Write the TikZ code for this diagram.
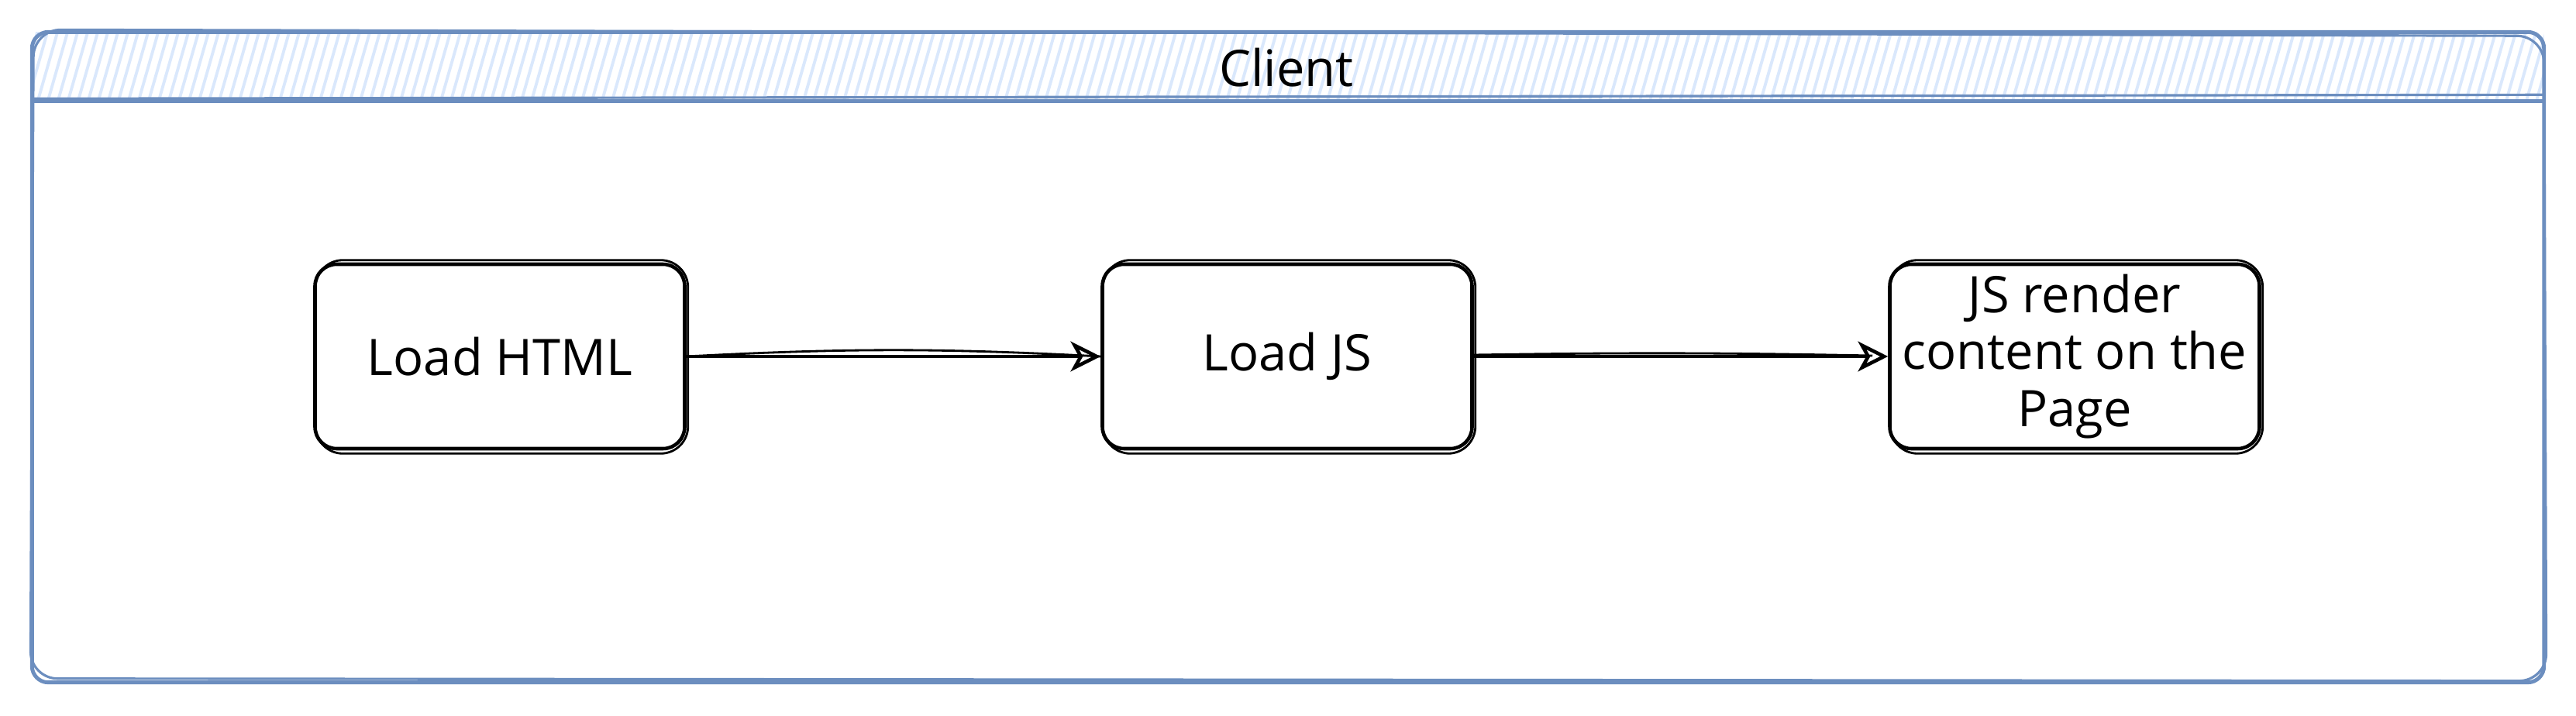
\documentclass[tikz,border=0pt]{standalone}
\usepackage{fontspec}
\setmainfont{Open Sans}
\usetikzlibrary{arrows.meta,calc}
\definecolor{cblue}{HTML}{6C8EBF}
\definecolor{lblue}{HTML}{DAE8FC}
\tikzset{
  proc/.style={draw=black, line width=1.3pt, rounded corners=8pt,
    minimum width=4.77cm, minimum height=2.38cm, align=center,
    font=\fontsize{18.5}{21}\selectfont, inner sep=0pt},
  sk/.style={draw=black, line width=0.8pt, rounded corners=10pt},
  arr/.style={draw=black, line width=1.3pt, -{Stealth[open,length=11pt,width=11pt,inset=3pt]}},
  arr2/.style={draw=black, line width=0.8pt},
  frame/.style={draw=cblue, line width=1.4pt},
  frame2/.style={draw=cblue, line width=0.9pt},
  hach/.style={draw=lblue, line width=1.1pt},
  title/.style={font=\fontsize{18.5}{21}\selectfont},
}
\begin{document}
\begin{tikzpicture}
\useasboundingbox (0,0) rectangle (33.24,-9.24);
% container
\node[minimum width=32.40cm, minimum height=8.38cm, inner sep=0pt] (client) at (16.62,-4.61) {};
% header hachure
\begin{scope}
  \clip (client.north west) rectangle ($(client.north east)+(0,-0.89)$);
  \foreach \i in {0,...,265} {
    \draw[hach] ({0.2+0.13*\i},-1.40) -- ({0.50+0.13*\i},-0.35);
  }
\end{scope}
\draw[frame, rounded corners=6pt] (client.north west) rectangle (client.south east);
\draw[frame2, rounded corners=10pt] ($(client.north west)+(0.02,0.03)$) -- ($(client.north east)+(0,-0.05)$) -- ($(client.south east)+(0.03,0.02)$) -- ($(client.south west)+(-0.02,0.05)$) -- cycle;
\coordinate (hl) at ($(client.north west)+(0,-0.89)$);
\coordinate (hr) at ($(client.north east)+(0,-0.89)$);
\draw[frame] (hl) -- (hr);
\draw[frame2] ($(hl)+(0,0.03)$) -- ($(hr)+(0,0.08)$);
\node[title] (ctitle) at (16.60,-0.87) {Client};
% boxes
\node[proc] (html) at (6.45,-4.60) {Load HTML};
\node[proc] (js) at (16.61,-4.60) {Load JS};
\node[proc] (render) at (26.77,-4.60) {JS render\\content on the\\Page};
\foreach \n in {html,js,render} {
  \draw[sk] ($(\n.north west)+(0.03,0.03)$) rectangle ($(\n.south east)+(0.02,-0.04)$);
}
% connectors
\draw[arr] (html.east) -- (js.west);
\draw[arr2] (html.east) to[bend left=3] (js.west);
\draw[arr] (js.east) -- (render.west);
\draw[arr2] ($(js.east)+(0,0.02)$) to[bend left=1] ($(render.west)+(-0.2,0.01)$);
\end{tikzpicture}
\end{document}
